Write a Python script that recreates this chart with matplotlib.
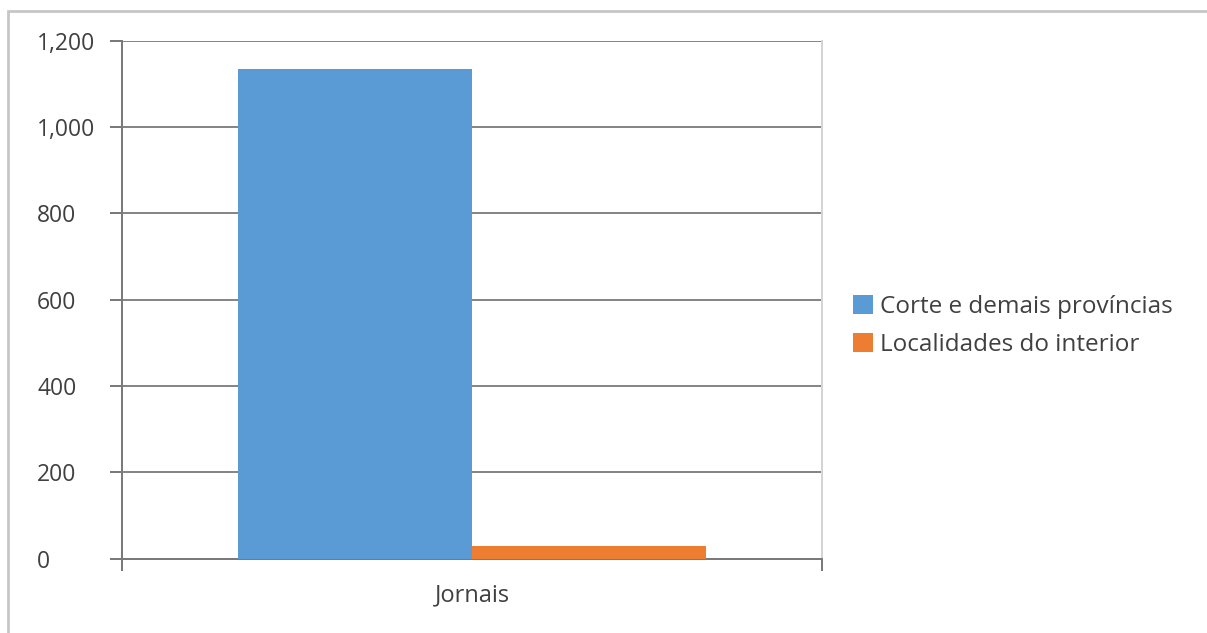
import numpy as np
import matplotlib.pyplot as plt
from matplotlib.patches import Rectangle

# chart data
categories = ['Jornais']
series_names = ['Corte e demais províncias', 'Localidades do interior']
series_values = [[1135], [29]]
series_colors = ['#5b9bd5', '#ed7d31']
y_ticks = [0, 200, 400, 600, 800, 1000, 1200]

plt.rcParams['font.family'] = ['Open Sans', 'DejaVu Sans']

W, H = 1207, 633
px = 72 / 100  # one pixel in points
fig = plt.figure(figsize=(W / 100, H / 100), dpi=100)

left, right, top, bottom = 121.7, 822.5, 40.7, 558.5
ax = fig.add_axes([left / W, 1 - bottom / H, (right - left) / W, (bottom - top) / H])

x = np.arange(len(categories))
bar_w = 0.334
for i, (name, vals, col) in enumerate(zip(series_names, series_values, series_colors)):
    offset = (i - 0.5) * bar_w
    ax.bar(x + offset, vals, bar_w, color=col, label=name, zorder=3)

ax.set_xlim(-0.5, 0.5)
ax.set_ylim(0, 1200)
ax.set_yticks(y_ticks)
ax.set_yticklabels([f'{v:,}' for v in y_ticks])
ax.set_xticks([-0.5, 0.5])
ax.set_xticklabels(['', ''])
ax.text(x[0], 1 - (595 - top) / (bottom - top), categories[0], transform=ax.get_xaxis_transform(),
        ha='center', va='center', fontsize=17, color='#404040')

ax.grid(axis='y', color='#868686', linewidth=2 * px, zorder=0)
for s in ['left', 'bottom']:
    ax.spines[s].set_color('#7a7a7a')
    ax.spines[s].set_linewidth(2 * px)
ax.spines['top'].set_visible(False)
ax.spines['right'].set_color('#d4d4d4')
ax.spines['right'].set_linewidth(2 * px)

# y labels are left aligned at about x=37 px in the reference
tick_len = 12 * px
ax.tick_params(axis='y', length=tick_len, width=2 * px, color='#7a7a7a', labelsize=16.5,
               labelcolor='#404040', pad=(left - 37) * px - tick_len)
for t in ax.get_yticklabels():
    t.set_horizontalalignment('left')
ax.tick_params(axis='x', length=tick_len, width=2 * px, color='#7a7a7a', direction='out')
for tl in ax.xaxis.get_ticklines():
    tl.set_clip_on(False)

leg = ax.legend(loc='center left', bbox_to_anchor=(1.0435, 0.449), frameon=False,
                fontsize=17.5, handlelength=0.82, handleheight=0.82, handletextpad=0.29,
                labelspacing=0.56, borderaxespad=0, borderpad=0)
for t in leg.get_texts():
    t.set_color('#404040')

# outer chart border
fig.patches.append(Rectangle((8 / W, -0.1), 1.2, 1 - 11 / H + 0.1, transform=fig.transFigure,
                             fill=False, edgecolor='#c6c6c6', linewidth=2))

fig.savefig('out.png', dpi=100)
